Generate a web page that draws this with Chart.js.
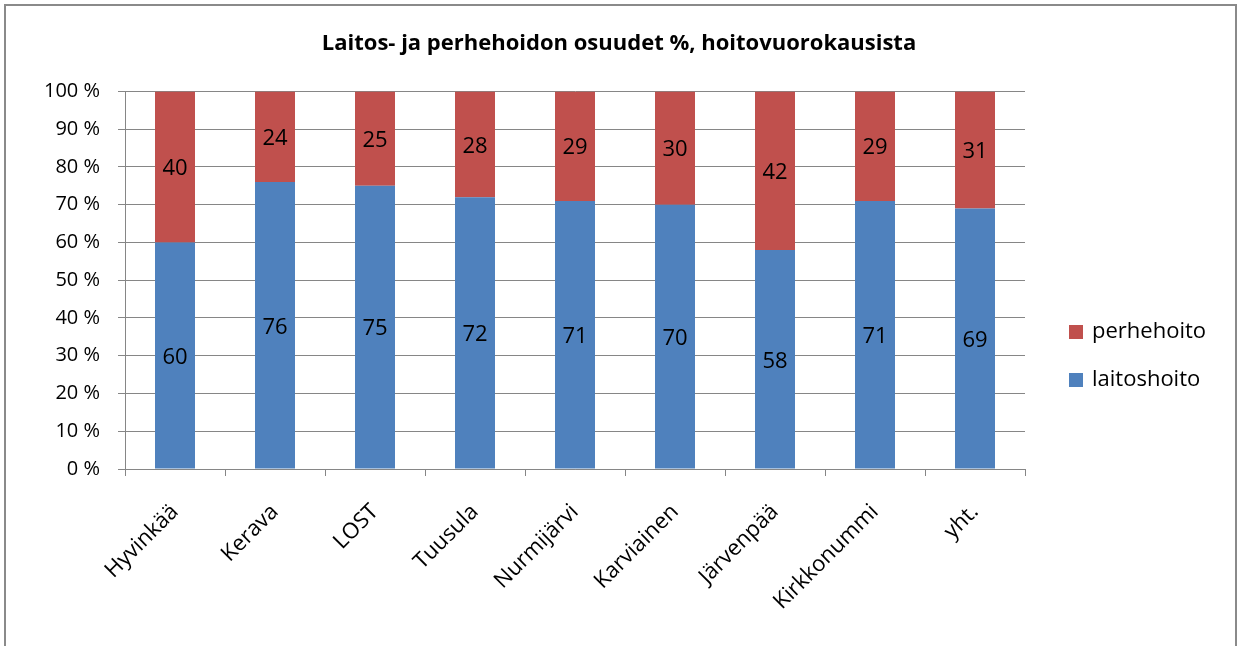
<!DOCTYPE html>
<html>
<head>
<meta charset="utf-8">
<script src="https://cdn.jsdelivr.net/npm/chart.js@4.4.1/dist/chart.umd.min.js"></script>
<style>
  html, body { margin: 0; padding: 0; background: #fff; }
  #wrap { position: absolute; left: 0; top: 0; width: 1238px; height: 646px; }
</style>
</head>
<body>
<div id="wrap"><canvas id="c" width="1238" height="646"></canvas></div>
<script>
const title = 'Laitos- ja perhehoidon osuudet %, hoitovuorokausista';
const categories = ['Hyvinkää', 'Kerava', 'LOST', 'Tuusula', 'Nurmijärvi', 'Karviainen', 'Järvenpää', 'Kirkkonummi', 'yht.'];
const laitoshoito = [60, 76, 75, 72, 71, 70, 58, 71, 69];
const perhehoito = [40, 24, 25, 28, 29, 30, 42, 29, 31];
const seriesNames = ['laitoshoito', 'perhehoito'];
const seriesColors = ['#4F81BD', '#C0504D'];
const yTicks = [0, 10, 20, 30, 40, 50, 60, 70, 80, 90, 100];

const FONT = "'Open Sans', 'DejaVu Sans', sans-serif";
const GRID = '#868686';

const frame = {
  id: 'frame',
  beforeDraw(chart) {
    const ctx = chart.ctx;
    ctx.save();
    ctx.fillStyle = '#fff';
    ctx.fillRect(0, 0, chart.width, chart.height);
    ctx.strokeStyle = '#8a8a8a';
    ctx.lineWidth = 2;
    ctx.strokeRect(5, 5, 1231, 800);
    ctx.restore();
  }
};

const valueLabels = {
  id: 'valueLabels',
  afterDatasetsDraw(chart) {
    const ctx = chart.ctx;
    ctx.save();
    ctx.font = '22px ' + FONT;
    ctx.fillStyle = '#000';
    ctx.textAlign = 'center';
    ctx.textBaseline = 'middle';
    chart.data.datasets.forEach((ds, di) => {
      const meta = chart.getDatasetMeta(di);
      meta.data.forEach((el, i) => {
        const p = el.getProps(['x', 'y', 'base'], true);
        ctx.fillText(String(ds.data[i]), p.x, (p.y + p.base) / 2 + 2);
      });
    });
    ctx.restore();
  }
};

const sideLegend = {
  id: 'sideLegend',
  afterDraw(chart) {
    const ctx = chart.ctx;
    ctx.save();
    ctx.font = '22px ' + FONT;
    ctx.textBaseline = 'middle';
    ctx.textAlign = 'left';
    const items = chart.data.datasets.map((d) => ({ label: d.label, color: d.backgroundColor })).reverse();
    const x0 = 1069, y0 = 332, step = 48, box = 14;
    items.forEach((it, k) => {
      const cy = y0 + k * step;
      ctx.fillStyle = it.color;
      ctx.fillRect(x0, cy - box / 2, box, box);
      ctx.fillStyle = '#000';
      ctx.fillText(it.label, x0 + 23, cy);
    });
    ctx.restore();
  }
};

new Chart(document.getElementById('c'), {
  type: 'bar',
  data: {
    labels: categories,
    datasets: [
      { label: seriesNames[0], data: laitoshoito, backgroundColor: seriesColors[0], barPercentage: 0.4, categoryPercentage: 1.0 },
      { label: seriesNames[1], data: perhehoito, backgroundColor: seriesColors[1], barPercentage: 0.4, categoryPercentage: 1.0 }
    ]
  },
  options: {
    responsive: false,
    animation: false,
    devicePixelRatio: 1,
    layout: { padding: { left: 0, right: 0, top: 0, bottom: 0 } },
    plugins: {
      legend: { display: false },
      tooltip: { enabled: false },
      title: {
        display: true,
        text: title,
        color: '#000',
        font: { family: FONT, size: 22, weight: 'bold', lineHeight: 1.2 },
        padding: { top: 31, bottom: 34 }
      }
    },
    scales: {
      x: {
        stacked: true,
        grid: { display: true, drawOnChartArea: false, offset: true, color: GRID, tickLength: 7, tickColor: GRID },
        border: { display: true, color: GRID, width: 1 },
        ticks: {
          autoSkip: false, maxRotation: 45, minRotation: 45, padding: 23,
          color: '#000', font: { family: FONT, size: 22 }
        },
        afterFit(scale) { scale.height = 177; }
      },
      y: {
        stacked: true,
        min: 0, max: 100,
        afterBuildTicks(scale) { scale.ticks = yTicks.map(v => ({ value: v })); },
        grid: { color: GRID, tickLength: 7, tickColor: GRID },
        border: { display: true, color: GRID, width: 1 },
        ticks: {
          padding: 18, color: '#000', font: { family: FONT, size: 20 },
          callback: (v) => v + ' %'
        },
        afterFit(scale) { scale.width = 125; }
      },
      spacer: {
        type: 'linear',
        position: 'right',
        display: true,
        grid: { display: false, drawOnChartArea: false },
        border: { display: false },
        ticks: { display: false },
        afterFit(scale) { scale.width = 213; }
      }
    }
  },
  plugins: [frame, valueLabels, sideLegend]
});
</script>
</body>
</html>
